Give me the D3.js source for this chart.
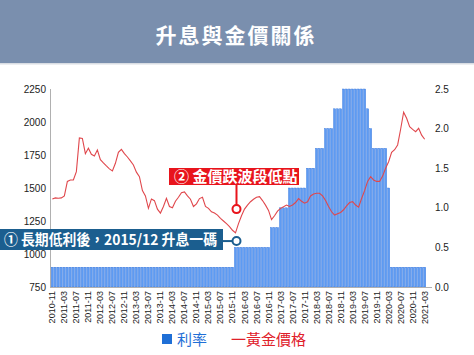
<!DOCTYPE html>
<html>
<head>
<meta charset="utf-8">
<script src="https://cdn.jsdelivr.net/npm/d3@7"></script>
<style>
  body { margin: 0; background: #fff; }
  svg { display: block; font-family: "Liberation Sans", Arial, sans-serif; }
  .cjk { font-family: "Noto Sans CJK TC", "Noto Sans", sans-serif; }
</style>
</head>
<body>
<svg id="chart" width="474" height="355"></svg>
<script>
// months 2010-11 .. 2021-03
let months = []
for (let y = 2010, m = 11; y < 2021 || (y == 2021 && m <= 3); ) {
    months.push(y + '-' + String(m).padStart(2, '0'))
    m++
    if (m > 12) { m = 1; y++ }
}

// interest rate (%), one value per month
let rates = [].concat(
    Array(61).fill(0.25),   // 2010-11 .. 2015-11
    Array(12).fill(0.5),    // 2015-12 .. 2016-11
    Array(3).fill(0.75),    // 2016-12 .. 2017-02
    Array(3).fill(1.0),     // 2017-03 .. 2017-05
    Array(6).fill(1.25),    // 2017-06 .. 2017-11
    Array(3).fill(1.5),     // 2017-12 .. 2018-02
    Array(3).fill(1.75),    // 2018-03 .. 2018-05
    Array(3).fill(2.0),     // 2018-06 .. 2018-08
    Array(3).fill(2.25),    // 2018-09 .. 2018-11
    Array(8).fill(2.5),     // 2018-12 .. 2019-07
    [2.25, 2.0],            // 2019-08, 2019-09
    Array(5).fill(1.75),    // 2019-10 .. 2020-02
    [1.25],                 // 2020-03
    Array(12).fill(0.25)    // 2020-04 .. 2021-03
)

// gold price
let gold = [
    1417, 1425, 1422, 1425, 1440, 1550, 1561, 1561, 1624, 1880,
    1876, 1760, 1801, 1755, 1742, 1788, 1715, 1690, 1667, 1645,
    1630, 1687, 1770, 1793, 1760, 1735, 1705, 1674, 1620, 1586,
    1480, 1440, 1346, 1417, 1404, 1340, 1310, 1360, 1422, 1360,
    1350, 1400, 1430, 1465, 1470, 1440, 1415, 1360, 1380, 1420,
    1430, 1360, 1346, 1320, 1310, 1295, 1270, 1250, 1230, 1207,
    1180, 1160, 1230, 1290, 1340, 1370, 1396, 1415, 1430, 1434,
    1405, 1370, 1330, 1260, 1290, 1325, 1346, 1358, 1371, 1360,
    1371, 1390, 1420, 1400, 1385, 1395, 1440, 1455, 1460, 1460,
    1440, 1405, 1360, 1320, 1295, 1305, 1315, 1335, 1365, 1390,
    1396, 1371, 1355, 1420, 1480, 1550, 1586, 1561, 1550, 1550,
    1590, 1650, 1699, 1770, 1790, 1826, 1945, 2074, 2028, 1964,
    1944, 1927, 1952, 1900, 1869
]

let goldTicks = [750, 1000, 1250, 1500, 1750, 2000, 2250]
let rateTicks = [0.0, 0.5, 1.0, 1.5, 2.0, 2.5]

let title = '升息與金價關係'
let note1 = '① 長期低利後，2015/12 升息一碼'
let note2 = '② 金價跌波段低點'
let noteMonth = '2015-12'

let svg = d3.select('#chart')

// header band
svg.append('rect')
    .attr('x', 0).attr('y', 0)
    .attr('width', 474).attr('height', 63)
    .attr('fill', '#7a8fae')
svg.append('rect')
    .attr('x', 0).attr('y', 63)
    .attr('width', 474).attr('height', 1.5)
    .attr('fill', '#d9dde3')
svg.append('text')
    .attr('class', 'cjk')
    .attr('x', 236).attr('y', 43)
    .attr('text-anchor', 'middle')
    .attr('font-size', 21)
    .attr('font-weight', 'bold')
    .attr('letter-spacing', 2)
    .attr('fill', '#fff')
    .text(title)

let xScale = d3.scaleBand()
    .domain(months)
    .range([51, 426])
    .paddingInner(0.3)
    .paddingOuter(0.1)

let yGold = d3.scaleLinear().domain([750, 2250]).range([287, 89])
let yRate = d3.scaleLinear().domain([0, 2.5]).range([287, 89])

// bars
svg.append('g')
    .selectAll('rect')
    .data(months)
    .enter()
    .append('rect')
        .attr('x', d => xScale(d))
        .attr('width', xScale.bandwidth())
        .attr('y', (d, i) => yRate(rates[i]))
        .attr('height', (d, i) => 287 - yRate(rates[i]))
        .attr('fill', '#5d9bf3')
        .attr('stroke', '#2e6fd9')
        .attr('stroke-width', 0.4)

// axis lines
svg.append('line')
    .attr('x1', 50.5).attr('x2', 50.5)
    .attr('y1', 89).attr('y2', 287)
    .attr('stroke', '#b0b0b0')
svg.append('line')
    .attr('x1', 50).attr('x2', 432)
    .attr('y1', 287.5).attr('y2', 287.5)
    .attr('stroke', '#b0b0b0')

// right axis labels
svg.append('g')
    .selectAll('text')
    .data(rateTicks)
    .enter()
    .append('text')
        .attr('x', 435)
        .attr('y', d => yRate(d) + 3.5)
        .attr('font-size', 10)
        .attr('fill', '#222')
        .text(d => d.toFixed(1))

// x labels every 4 months
svg.append('g')
    .selectAll('text')
    .data(months.filter((d, i) => i % 4 == 0))
    .enter()
    .append('text')
        .attr('transform', d => 'translate(' + (xScale(d) + xScale.bandwidth() / 2 + 3) + ',291) rotate(-90)')
        .attr('text-anchor', 'end')
        .attr('font-size', 9)
        .attr('fill', '#222')
        .text(d => d)

// gold line
let line = d3.line()
    .x((d, i) => xScale(months[i]) + xScale.bandwidth() / 2)
    .y(d => yGold(d))

svg.append('path')
    .datum(gold)
    .attr('d', line)
    .attr('fill', 'none')
    .attr('stroke', '#e0474c')
    .attr('stroke-width', 1.1)

// annotations
let nx = xScale(noteMonth) + xScale.bandwidth() / 2 + 1

// ② red
let redY = yGold(1340)
svg.append('line')
    .attr('x1', nx).attr('x2', nx)
    .attr('y1', 184).attr('y2', redY)
    .attr('stroke', '#e8141c').attr('stroke-width', 2)
svg.append('rect')
    .attr('x', 169).attr('y', 168)
    .attr('width', 130).attr('height', 17)
    .attr('fill', '#e8141c')
svg.append('text')
    .attr('class', 'cjk')
    .attr('x', 174).attr('y', 182)
    .attr('font-size', 15)
    .attr('font-weight', 'bold')
    .attr('fill', '#fff')
    .text(note2)
svg.append('circle')
    .attr('cx', nx).attr('cy', redY)
    .attr('r', 4)
    .attr('fill', '#fff')
    .attr('stroke', '#e8141c').attr('stroke-width', 2)

// ① blue
let blueY = yGold(1098)
svg.append('line')
    .attr('x1', 222).attr('x2', nx)
    .attr('y1', blueY).attr('y2', blueY)
    .attr('stroke', '#1b5e8f').attr('stroke-width', 2)
svg.append('rect')
    .attr('x', 0).attr('y', 229)
    .attr('width', 223).attr('height', 21)
    .attr('fill', '#1b5e8f')
svg.append('text')
    .attr('class', 'cjk')
    .attr('x', 4).attr('y', 245)
    .attr('font-size', 14.5)
    .attr('font-weight', 'bold')
    .attr('textLength', 213)
    .attr('lengthAdjust', 'spacingAndGlyphs')
    .attr('fill', '#fff')
    .text(note1)
svg.append('circle')
    .attr('cx', nx).attr('cy', blueY)
    .attr('r', 4)
    .attr('fill', '#fff')
    .attr('stroke', '#1b5e8f').attr('stroke-width', 2)

// left axis labels (drawn after the note box so 1000 stays readable)
svg.append('g')
    .selectAll('text')
    .data(goldTicks)
    .enter()
    .append('text')
        .attr('x', 46)
        .attr('y', d => yGold(d) + 3.5)
        .attr('text-anchor', 'end')
        .attr('font-size', 10)
        .attr('fill', '#222')
        .text(d => d)

// legend
svg.append('rect')
    .attr('x', 162).attr('y', 334)
    .attr('width', 10).attr('height', 10)
    .attr('fill', '#1f6fd6')
svg.append('text')
    .attr('class', 'cjk')
    .attr('x', 177).attr('y', 345)
    .attr('font-size', 15)
    .attr('fill', '#1f6fd6')
    .text('利率')
svg.append('text')
    .attr('class', 'cjk')
    .attr('x', 231).attr('y', 345)
    .attr('font-size', 15)
    .attr('fill', '#e0202a')
    .text('一黃金價格')
</script>
</body>
</html>
